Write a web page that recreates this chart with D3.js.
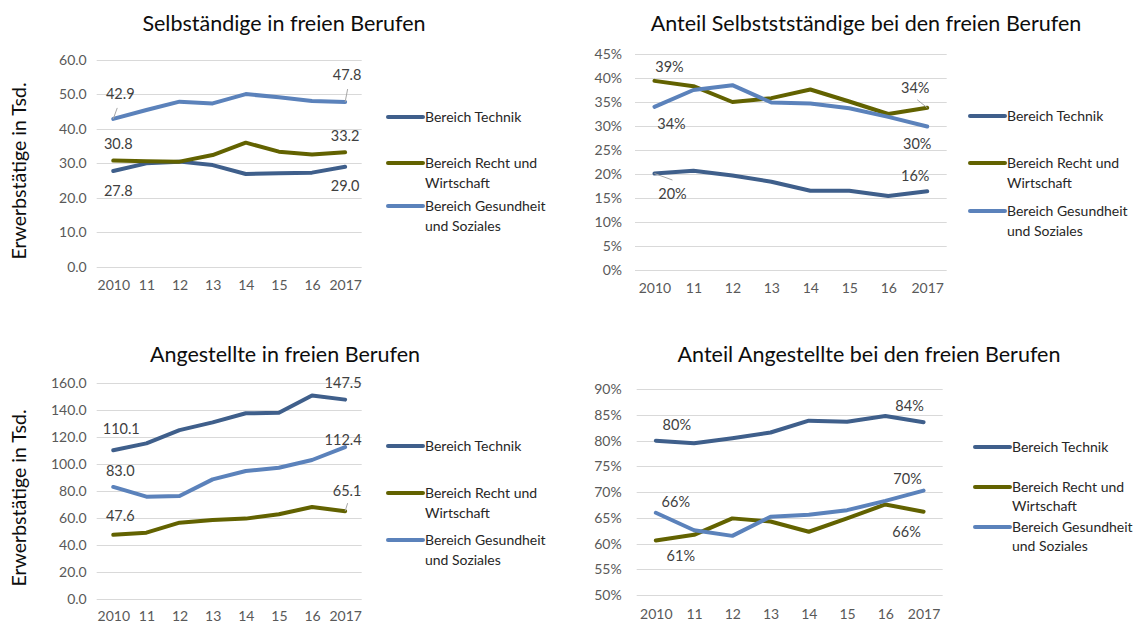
<!DOCTYPE html>
<html>
<head>
<meta charset="utf-8">
<script src="https://cdn.jsdelivr.net/npm/d3@7"></script>
<style>
    body { margin: 0; background: #fff; }
    svg { display: block; font-family: Lato, "Open Sans", sans-serif; }
</style>
</head>
<body>
<div id="chart"></div>
<script>
// data
const years = ["2010", "11", "12", "13", "14", "15", "16", "2017"];
const seriesNames = ["Bereich Technik", "Bereich Recht und Wirtschaft", "Bereich Gesundheit und Soziales"];
const legendLines = [["Bereich Technik"], ["Bereich Recht und", "Wirtschaft"], ["Bereich Gesundheit", "und Soziales"]];

// Selbständige in Tsd.
const selbTechnik = [27.8, 30.0, 30.5, 29.5, 26.9, 27.1, 27.3, 29.0];
const selbRecht = [30.8, 30.6, 30.5, 32.4, 36.0, 33.4, 32.6, 33.2];
const selbGesund = [42.9, 45.5, 47.9, 47.4, 50.1, 49.2, 48.1, 47.8];

// Anteil Selbstständige
const antSelbTechnik = [0.201, 0.207, 0.197, 0.184, 0.165, 0.165, 0.154, 0.164];
const antSelbRecht = [0.394, 0.383, 0.350, 0.358, 0.376, 0.351, 0.325, 0.338];
const antSelbGesund = [0.340, 0.375, 0.385, 0.349, 0.347, 0.337, 0.319, 0.299];

// Angestellte in Tsd.
const angTechnik = [110.1, 115.2, 125.0, 130.7, 137.4, 137.8, 150.6, 147.5];
const angRecht = [47.6, 49.2, 56.6, 58.6, 59.6, 62.8, 68.2, 65.1];
const angGesund = [83.0, 75.8, 76.3, 88.6, 94.8, 97.2, 102.9, 112.4];

// Anteil Angestellte
const antAngTechnik = [0.800, 0.795, 0.805, 0.816, 0.839, 0.837, 0.848, 0.836];
const antAngRecht = [0.606, 0.617, 0.649, 0.643, 0.623, 0.649, 0.676, 0.662];
const antAngGesund = [0.660, 0.626, 0.615, 0.652, 0.656, 0.665, 0.683, 0.703];

const colors = ["#3f5f8b", "#626200", "#5b82bb"];

const W = 1144, H = 627;
const svg = d3.select("#chart").append("svg")
    .attr("width", W)
    .attr("height", H)
    .attr("viewBox", `0 0 ${W} ${H}`);

// label spec: [series index, point index, dx, dy, leader]
function drawPanel(p) {
    const g = svg.append("g");

    const x = d3.scalePoint()
        .domain(years)
        .range([p.left, p.right])
        .padding(0.5);

    const y = d3.scaleLinear()
        .domain(p.domain)
        .range([p.bottom, p.top]);

    const ticks = d3.range(p.domain[0], p.domain[1] + p.step / 2, p.step);

    // gridlines
    g.append("g")
        .selectAll("line")
        .data(ticks)
        .join("line")
        .attr("x1", p.left)
        .attr("x2", p.right)
        .attr("y1", d => Math.round(y(d)) + 0.5)
        .attr("y2", d => Math.round(y(d)) + 0.5)
        .attr("stroke", "#d9d9d9")
        .attr("stroke-width", 1);

    // y axis labels
    const yAxis = d3.axisLeft(y).tickValues(ticks).tickFormat(d3.format(p.fmt)).tickSize(0).tickPadding(p.tickGap);
    g.append("g")
        .attr("transform", `translate(${p.left},0)`)
        .call(yAxis)
        .call(a => a.select(".domain").remove())
        .call(a => a.selectAll("text")
            .attr("fill", "#595959")
            .attr("font-size", "14px")
            .attr("font-family", "Lato, sans-serif"));

    // x axis labels
    const xAxis = d3.axisBottom(x).tickSize(0).tickPadding(p.xPad);
    g.append("g")
        .attr("transform", `translate(0,${p.bottom})`)
        .call(xAxis)
        .call(a => a.select(".domain").remove())
        .call(a => a.selectAll("text")
            .attr("fill", "#595959")
            .attr("font-size", "14px")
            .attr("font-family", "Lato, sans-serif"));

    // title
    g.append("text")
        .attr("x", p.titleX)
        .attr("y", p.titleY)
        .attr("text-anchor", "middle")
        .attr("font-size", "21.5px")
        .attr("fill", "#0d0d0d")
        .text(p.title);

    // y label
    if (p.yLabel) {
        g.append("text")
            .attr("transform", `translate(26,${p.yLabelY}) rotate(-90)`)
            .attr("text-anchor", "middle")
            .attr("font-size", "19.5px")
            .attr("fill", "#0d0d0d")
            .text(p.yLabel);
    }

    const line = d3.line()
        .x((d, i) => x(years[i]))
        .y(d => y(d));

    // lines
    g.append("g")
        .selectAll("path")
        .data(p.series)
        .join("path")
        .attr("d", d => line(d))
        .attr("fill", "none")
        .attr("stroke", (d, i) => colors[i])
        .attr("stroke-width", 4)
        .attr("stroke-linejoin", "round")
        .attr("stroke-linecap", "round");

    // data labels
    const fmtLabel = d3.format(p.labelFmt);
    p.labels.forEach(([s, i, dx, dy, leader]) => {
        const px = x(years[i]);
        const py = y(p.series[s][i]);
        if (leader) {
            g.append("line")
                .attr("x1", px)
                .attr("y1", py)
                .attr("x2", px + leader[0])
                .attr("y2", py + leader[1])
                .attr("stroke", "#a6a6a6")
                .attr("stroke-width", 1);
        }
        g.append("text")
            .attr("x", px + dx)
            .attr("y", py + dy)
            .attr("dy", "0.35em")
            .attr("text-anchor", "middle")
            .attr("font-size", "14.5px")
            .attr("fill", "#404040")
            .text(fmtLabel(p.series[s][i]));
    });

    // legend
    p.legendY.forEach((ly, i) => {
        g.append("line")
            .attr("x1", p.legendX)
            .attr("x2", p.legendX + 35)
            .attr("y1", ly)
            .attr("y2", ly)
            .attr("stroke", colors[i])
            .attr("stroke-width", 4)
            .attr("stroke-linecap", "round");
        const t = g.append("text")
            .attr("x", p.legendX + 37)
            .attr("y", ly)
            .attr("font-size", "14px")
            .attr("fill", "#262626");
        legendLines[i].forEach((txt, k) => {
            t.append("tspan")
                .attr("x", p.legendX + 37)
                .attr("dy", k === 0 ? "0.35em" : p.legendLH)
                .text(txt);
        });
    });
}

drawPanel({
    title: "Selbständige in freien Berufen", titleX: 284, titleY: 31,
    yLabel: "Erwerbstätige in Tsd.", yLabelY: 171,
    left: 96.7, right: 361.7, top: 60, bottom: 266.7,
    domain: [0, 60], step: 10, fmt: ".1f", labelFmt: ".1f", tickGap: 10, xPad: 13,
    series: [selbTechnik, selbRecht, selbGesund],
    labels: [
        [2, 0, 7, -25, [4, -11]], [2, 7, 2, -27, [2.5, -13]],
        [1, 0, 5, -17], [1, 7, 0, -16],
        [0, 0, 5, 20], [0, 7, 0, 19]
    ],
    legendX: 388, legendY: [117, 163, 206], legendLH: 20
});

drawPanel({
    title: "Anteil Selbststständige bei den freien Berufen", titleX: 866, titleY: 31,
    left: 635, right: 946.7, top: 54, bottom: 270,
    domain: [0, 0.45], step: 0.05, fmt: ".0%", labelFmt: ".0%", tickGap: 13, xPad: 13,
    series: [antSelbTechnik, antSelbRecht, antSelbGesund],
    labels: [
        [1, 0, 15, -14], [1, 7, -12, -19.5, [-10, -8]],
        [2, 0, 17, 17.5], [2, 7, -10, 17],
        [0, 7, -12, -15], [0, 0, 18, 20.5, [18, 6.5]]
    ],
    legendX: 970, legendY: [116, 163, 211], legendLH: 20
});

drawPanel({
    title: "Angestellte in freien Berufen", titleX: 285, titleY: 362,
    yLabel: "Erwerbstätige in Tsd.", yLabelY: 498,
    left: 96.7, right: 361.7, top: 382.7, bottom: 599.3,
    domain: [0, 160], step: 20, fmt: ".1f", labelFmt: ".1f", tickGap: 10, xPad: 11.5,
    series: [angTechnik, angRecht, angGesund],
    labels: [
        [0, 0, 8, -21], [0, 7, -2, -17],
        [2, 0, 7, -16], [2, 7, -2, -7],
        [1, 0, 7, -19], [1, 7, 2, -20, [2.5, -8]]
    ],
    legendX: 388, legendY: [446, 493, 540], legendLH: 20
});

drawPanel({
    title: "Anteil Angestellte bei den freien Berufen", titleX: 869, titleY: 362,
    left: 636.7, right: 942.7, top: 389.3, bottom: 595,
    domain: [0.5, 0.9], step: 0.05, fmt: ".0%", labelFmt: ".0%", tickGap: 15, xPad: 14.5,
    series: [antAngTechnik, antAngRecht, antAngGesund],
    labels: [
        [0, 0, 21, -16], [0, 7, -14, -16],
        [2, 0, 20, -11], [2, 7, -16, -12],
        [1, 0, 25, 15], [1, 7, -17, 20]
    ],
    legendX: 975, legendY: [447, 487, 527], legendLH: 19
});
</script>
</body>
</html>
